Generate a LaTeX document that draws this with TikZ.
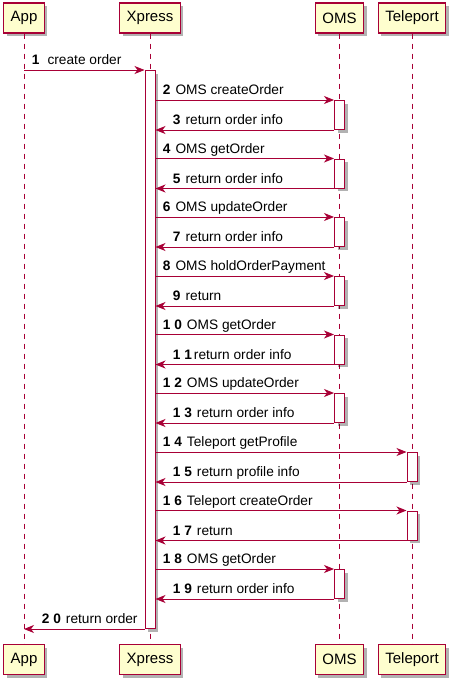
\documentclass[tikz,border=0pt]{standalone}
\usepackage{fontspec}
\setmainfont{Liberation Sans}
\usetikzlibrary{arrows.meta, shadows}
\definecolor{umlred}{HTML}{A80036}
\definecolor{umlfill}{HTML}{FEFECE}
\newcommand{\seqno}[1]{\textbf{#1}\hspace{5pt}}

\begin{document}
\begin{tikzpicture}[
    x=1pt, y=-1pt,
    >={Stealth[length=10pt, width=8pt, inset=3pt]},
    every node/.style={font=\fontsize{13.7}{16}\selectfont},
    shade/.style={drop shadow={shadow xshift=3pt, shadow yshift=-3pt,
                  fill=black, opacity=0.3}},
    part/.style={draw=umlred, line width=1.2pt, fill=umlfill, shade,
                 inner xsep=7pt, minimum height=30pt,
                 font=\fontsize{15}{17}\selectfont},
    act/.style={draw=umlred, line width=1pt, fill=white, shade,
                minimum width=10pt, inner sep=0pt, anchor=north},
    life/.style={umlred, dash pattern=on 5pt off 5pt, line width=0.7pt},
    msg/.style={->, umlred, line width=0.9pt},
    lbl/.style={anchor=base west, inner sep=0pt, text=black, yshift=5.5pt},
]
\useasboundingbox (0,0) rectangle (461,685);
% participants, top and bottom
\node[part] (appT) at (24,18)    {App};
\node[part] (xprT) at (150,18)   {Xpress};
\node[part] (omsT) at (339.5,18) {OMS};
\node[part] (telT) at (412,18)   {Teleport};
\node[part] (appB) at (24,659.5)    {App};
\node[part] (xprB) at (150,659.5)   {Xpress};
\node[part] (omsB) at (339.5,659.5) {OMS};
\node[part] (telB) at (412,659.5)   {Teleport};
\draw[life] (appT) -- (appB);
\draw[life] (xprT) -- (xprB);
\draw[life] (omsT) -- (omsB);
\draw[life] (telT) -- (telB);
% activations
\node[act, minimum height=558pt] (actX) at (150,70) {};
\node[act, minimum height=29pt] (o1) at (339.5,100) {};
\node[act, minimum height=29pt] (o2) at (339.5,158.5) {};
\node[act, minimum height=29pt] (o3) at (339.5,217) {};
\node[act, minimum height=29pt] (o4) at (339.5,276) {};
\node[act, minimum height=29pt] (o5) at (339.5,334.5) {};
\node[act, minimum height=29pt] (o6) at (339.5,393) {};
\node[act, minimum height=29pt] (t1) at (412,452) {};
\node[act, minimum height=29pt] (t2) at (412,510.5) {};
\node[act, minimum height=29pt] (o7) at (339.5,569) {};
% messages
\draw[msg] (appT.south |- actX.north) -- node[lbl, pos=0, xshift=7.5pt]{\textbf{1}\hspace{8pt}create order} (actX.north west);
\draw[msg] (actX.east |- o1.north) -- node[lbl, pos=0, xshift=7pt]{\seqno{2}OMS createOrder} (o1.north west);
\draw[msg] (o1.south west) -- node[lbl, pos=1, xshift=17pt]{\seqno{3}return order info} (actX.east |- o1.south);
\draw[msg] (actX.east |- o2.north) -- node[lbl, pos=0, xshift=7pt]{\seqno{4}OMS getOrder} (o2.north west);
\draw[msg] (o2.south west) -- node[lbl, pos=1, xshift=17pt]{\seqno{5}return order info} (actX.east |- o2.south);
\draw[msg] (actX.east |- o3.north) -- node[lbl, pos=0, xshift=7pt]{\seqno{6}OMS updateOrder} (o3.north west);
\draw[msg] (o3.south west) -- node[lbl, pos=1, xshift=17pt]{\seqno{7}return order info} (actX.east |- o3.south);
\draw[msg] (actX.east |- o4.north) -- node[lbl, pos=0, xshift=7pt]{\seqno{8}OMS holdOrderPayment} (o4.north west);
\draw[msg] (o4.south west) -- node[lbl, pos=1, xshift=17pt]{\seqno{9}return} (actX.east |- o4.south);
\draw[msg] (actX.east |- o5.north) -- node[lbl, pos=0, xshift=7pt]{\seqno{1 0}OMS getOrder} (o5.north west);
\draw[msg] (o5.south west) -- node[lbl, pos=1, xshift=17pt]{\textbf{1 1}\hspace{2pt}return order info} (actX.east |- o5.south);
\draw[msg] (actX.east |- o6.north) -- node[lbl, pos=0, xshift=7pt]{\seqno{1 2}OMS updateOrder} (o6.north west);
\draw[msg] (o6.south west) -- node[lbl, pos=1, xshift=17pt]{\seqno{1 3}return order info} (actX.east |- o6.south);
\draw[msg] (actX.east |- t1.north) -- node[lbl, pos=0, xshift=7pt]{\seqno{1 4}Teleport getProfile} (t1.north west);
\draw[msg] (t1.south west) -- node[lbl, pos=1, xshift=17pt]{\seqno{1 5}return profile info} (actX.east |- t1.south);
\draw[msg] (actX.east |- t2.north) -- node[lbl, pos=0, xshift=7pt]{\seqno{1 6}Teleport createOrder} (t2.north west);
\draw[msg] (t2.south west) -- node[lbl, pos=1, xshift=17pt]{\seqno{1 7}return} (actX.east |- t2.south);
\draw[msg] (actX.east |- o7.north) -- node[lbl, pos=0, xshift=7pt]{\seqno{1 8}OMS getOrder} (o7.north west);
\draw[msg] (o7.south west) -- node[lbl, pos=1, xshift=17pt]{\seqno{1 9}return order info} (actX.east |- o7.south);
\draw[msg] (actX.south west) -- node[lbl, pos=1, xshift=17.5pt]{\seqno{2 0}return order} (appT.south |- actX.south);
\end{tikzpicture}
\end{document}
